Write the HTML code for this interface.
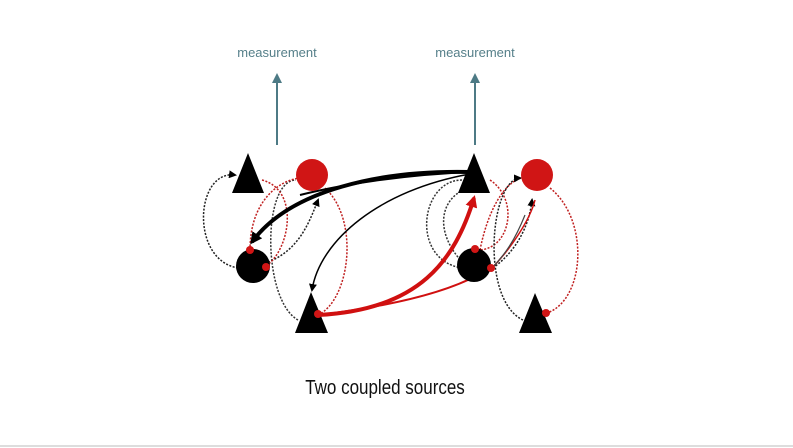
<!DOCTYPE html>
<html><head><meta charset="utf-8"><style>
html,body{margin:0;padding:0;background:#fff;}
svg{display:block}
</style></head><body>
<svg width="793" height="448" viewBox="0 0 793 448" xmlns="http://www.w3.org/2000/svg">
<defs>
<marker id="ab" markerWidth="8" markerHeight="8" refX="6" refY="4" orient="auto" markerUnits="userSpaceOnUse"><path d="M0,0 L8,4 L0,8 z" fill="#000"/></marker>
<marker id="abb" markerWidth="12" markerHeight="12" refX="9" refY="6" orient="auto" markerUnits="userSpaceOnUse"><path d="M0,0 L12,6 L0,12 z" fill="#000"/></marker>
<marker id="ar" markerWidth="12" markerHeight="12" refX="9" refY="6" orient="auto" markerUnits="userSpaceOnUse"><path d="M0,0 L12,6 L0,12 z" fill="#d01010"/></marker>
<marker id="at" markerWidth="10" markerHeight="10" refX="5" refY="5" orient="auto" markerUnits="userSpaceOnUse"><path d="M0,0 L10,5 L0,10 z" fill="#4d7a85"/></marker>
</defs>
<rect width="793" height="448" fill="#fff"/>
<text x="277" y="57" font-family="Liberation Sans, sans-serif" font-size="13" fill="#557f89" text-anchor="middle">measurement</text>
<text x="475" y="57" font-family="Liberation Sans, sans-serif" font-size="13" fill="#557f89" text-anchor="middle">measurement</text>
<line x1="277" y1="145" x2="277" y2="78" stroke="#4d7a85" stroke-width="2" marker-end="url(#at)"/>
<line x1="475" y1="145" x2="475" y2="78" stroke="#4d7a85" stroke-width="2" marker-end="url(#at)"/>

<g fill="none" stroke-dasharray="2,1.5" stroke-width="1.5">
<!-- left dotted black loops -->
<path d="M238,268 C190,260 195,170 235,175" stroke="#222" marker-end="url(#ab)"/>
<path d="M298,320 C262,300 262,180 296,180" stroke="#333"/>
<path d="M268,262 C300,250 310,220 318,200" stroke="#222" marker-end="url(#ab)"/>
<!-- left red dotted -->
<path d="M262,180 C300,190 290,250 266,266" stroke="#c02020"/>
<path d="M250,250 C250,200 280,180 300,178" stroke="#c02020"/>
<path d="M325,188 C360,220 350,300 318,315" stroke="#c02020"/>
<!-- right dotted -->
<path d="M462,268 C410,260 420,180 462,180" stroke="#333"/>
<path d="M490,180 C520,200 510,250 478,250" stroke="#c02020"/>
<path d="M480,250 C490,200 510,180 522,178" stroke="#c02020"/>
<path d="M523,320 C480,300 490,180 520,178" stroke="#222" marker-end="url(#ab)"/>
<path d="M490,270 C520,250 530,220 532,200" stroke="#222" marker-end="url(#ab)"/>
<path d="M550,188 C590,220 585,300 547,313" stroke="#c02020"/>
<path d="M465,265 C430,230 440,190 480,185" stroke="#333"/>
</g>
<!-- solid connectors -->
<path d="M470,172 C380,170 290,190 252,242" fill="none" stroke="#000" stroke-width="4" marker-end="url(#abb)"/>
<path d="M470,172 C400,175 340,185 300,195" fill="none" stroke="#000" stroke-width="2"/>
<path d="M470,174 C380,190 320,240 312,290" fill="none" stroke="#000" stroke-width="1.5" marker-end="url(#ab)"/>
<path d="M318,315 C420,310 455,260 474,198" fill="none" stroke="#d01010" stroke-width="4" marker-end="url(#ar)"/>
<path d="M318,315 C400,305 450,290 478,275" fill="none" stroke="#d01010" stroke-width="2"/>
<path d="M490,270 C510,250 530,220 535,200" fill="none" stroke="#d01010" stroke-width="1.5"/>
<path d="M490,270 C505,255 515,240 525,215" fill="none" stroke="#444" stroke-width="1.2"/>

<!-- nodes -->
<polygon points="248,153 232,193 264,193" fill="#000"/>
<circle cx="312" cy="175" r="16" fill="#d01515"/>
<circle cx="253" cy="266" r="17" fill="#000"/>
<polygon points="311,292 295,333 328,333" fill="#000"/>
<polygon points="474,153 458,193 490,193" fill="#000"/>
<circle cx="537" cy="175" r="16" fill="#d01515"/>
<circle cx="474" cy="265" r="17" fill="#000"/>
<polygon points="535,293 519,333 552,333" fill="#000"/>
<!-- red dots -->
<circle cx="250" cy="250" r="4" fill="#d01515"/>
<circle cx="266" cy="267" r="4" fill="#d01515"/>
<circle cx="318" cy="314" r="4" fill="#d01515"/>
<circle cx="475" cy="249" r="4" fill="#d01515"/>
<circle cx="491" cy="268" r="4" fill="#d01515"/>
<circle cx="546" cy="313" r="4" fill="#d01515"/>

<text x="385" y="394" font-family="Liberation Sans, sans-serif" font-size="20" fill="#111" text-anchor="middle" transform="translate(385,0) scale(0.85,1) translate(-385,0)">Two coupled sources</text>
<line x1="0" y1="446" x2="793" y2="446" stroke="#ddd" stroke-width="2"/>
</svg>
</body></html>
